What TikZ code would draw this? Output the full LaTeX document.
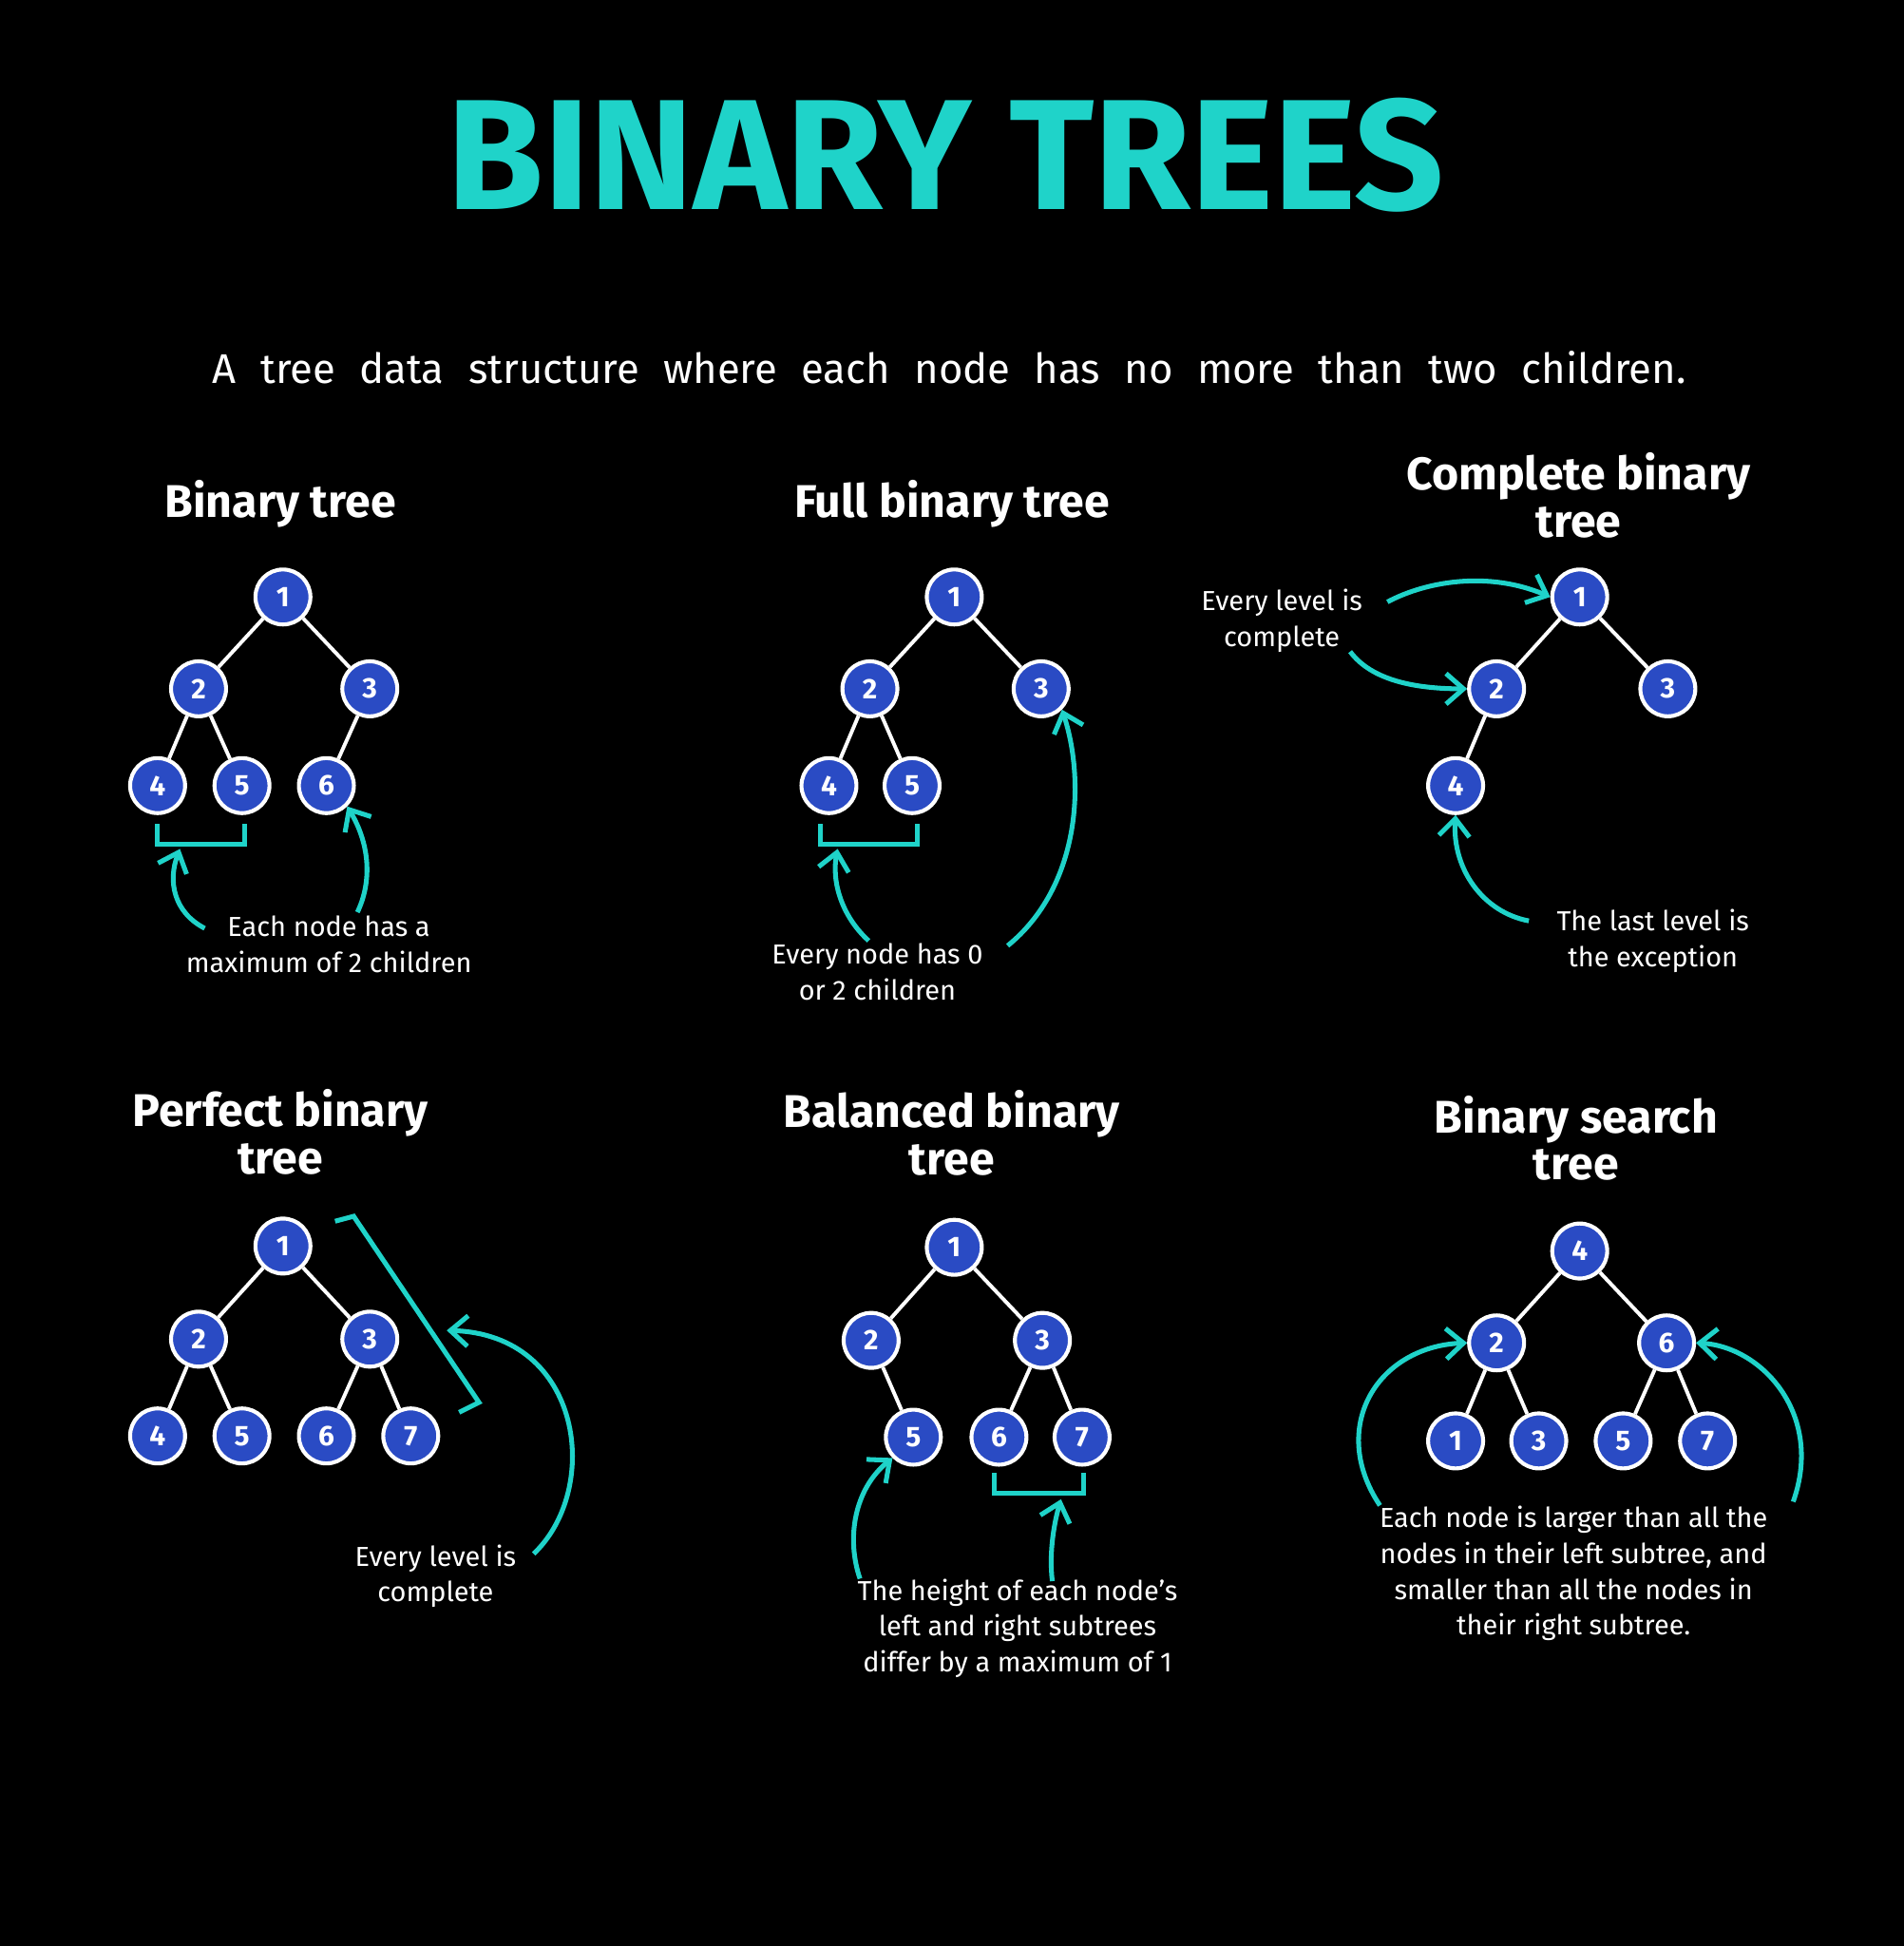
\documentclass[tikz,border=0pt]{standalone}
\usepackage{fontspec}
\setmainfont{Fira Sans}
\newfontfamily\subfont{Fira Sans}[WordSpace=2.2]
\usetikzlibrary{arrows.meta}
\definecolor{tealc}{HTML}{1FD3C9}
\definecolor{nodeblue}{HTML}{2A4BC4}
\tikzset{
  tn/.style={circle,draw=white,line width=0.9pt,fill=nodeblue,text=white,
             minimum size=12.6pt,inner sep=0pt,font=\bfseries\fontsize{6.5}{7}\selectfont},
  edge/.style={draw=white,line width=0.85pt},
  hint/.style={draw=tealc,line width=1.1pt,-{Straight Barb[length=4pt,width=7pt]}},
  brk/.style={draw=tealc,line width=1.1pt},
  note/.style={text=white,align=center,font=\fontsize{6.3}{8.2}\selectfont},
  head/.style={text=white,align=center,font=\bfseries\fontsize{10.5}{10.8}\selectfont}
}
\begin{document}
\begin{tikzpicture}[x=0.01cm,y=-0.01cm]
\fill[black] (0,0) rectangle (1534,1568);
\useasboundingbox (0,0) rectangle (1534,1568);

\node[text=tealc,font=\bfseries\fontsize{36}{36}\selectfont] (Title) at (762,125) {BINARY TREES};
\node[text=white,font=\subfont\fontsize{9.5}{10}\selectfont] (Sub) at (765,296)
  {A tree data structure where each node has no more than two children.};

% binary tree
\node[head] (HeadA) at (226,406) {Binary tree};
\node[tn] (A1) at (228,481) {1};
\node[tn] (A2) at (160,555) {2};
\node[tn] (A3) at (298,555) {3};
\node[tn] (A4) at (127,633) {4};
\node[tn] (A5) at (195,633) {5};
\node[tn] (A6) at (263,633) {6};
\draw[edge] (A1)--(A2) (A1)--(A3) (A2)--(A4) (A2)--(A5) (A3)--(A6);
\draw[brk] (127,664)--(127,680)--(197,680)--(197,664);
\node[note] (NoteA) at (265,761) {Each node has a\\maximum of 2 children};
\coordinate (BrkA) at (145,684);
\draw[hint] (165,748) .. controls (140,735) and (135,710) .. (BrkA);
\draw[hint] (288,735) .. controls (300,710) and (298,680) .. (A6.south east);

% full binary tree
\node[head] (HeadB) at (767,406) {Full binary tree};
\node[tn] (B1) at (769,481) {1};
\node[tn] (B2) at (701,555) {2};
\node[tn] (B3) at (839,555) {3};
\node[tn] (B4) at (668,633) {4};
\node[tn] (B5) at (735,633) {5};
\draw[edge] (B1)--(B2) (B1)--(B3) (B2)--(B4) (B2)--(B5);
\draw[brk] (661,664)--(661,680)--(739,680)--(739,664);
\node[note] (NoteB) at (707,783) {Every node has 0\\or 2 children};
\coordinate (BrkB) at (675,684);
\draw[hint] (700,758) .. controls (678,738) and (670,710) .. (BrkB);
\draw[hint] (812,762) .. controls (870,715) and (875,630) .. (B3.south east);

% complete binary tree
\node[head] (HeadC) at (1272,399) {Complete binary\\tree};
\node[tn] (C1) at (1273,481) {1};
\node[tn] (C2) at (1206,555) {2};
\node[tn] (C3) at (1344,555) {3};
\node[tn] (C4) at (1173,633) {4};
\draw[edge] (C1)--(C2) (C1)--(C3) (C2)--(C4);
\node[note] (NoteC) at (1033,500) {Every level is\\complete};
\node[note] (NoteD) at (1332,758) {The last level is\\the exception};
\draw[hint] (1118,485) .. controls (1150,468) and (1200,460) .. (C1.west);
\draw[hint] (1088,525) .. controls (1105,548) and (1140,555) .. (C2.west);
\draw[hint] (1232,742) .. controls (1195,735) and (1170,700) .. (C4.south);

% perfect binary tree
\node[head] (HeadE) at (226,912) {Perfect binary\\tree};
\node[tn] (E1) at (228,1004) {1};
\node[tn] (E2) at (160,1079) {2};
\node[tn] (E3) at (298,1079) {3};
\node[tn] (E4) at (127,1157) {4};
\node[tn] (E5) at (195,1157) {5};
\node[tn] (E6) at (263,1157) {6};
\node[tn] (E7) at (331,1157) {7};
\draw[edge] (E1)--(E2) (E1)--(E3) (E2)--(E4) (E2)--(E5) (E3)--(E6) (E3)--(E7);
\draw[brk] (270,984)--(285,980)--(386,1130)--(370,1138);
\node[note] (NoteE) at (351,1270) {Every level is\\complete};
\coordinate (BrkE) at (360,1072);
\draw[hint] (430,1252) .. controls (485,1200) and (470,1075) .. (BrkE);

% balanced binary tree
\node[head] (HeadF) at (767,913) {Balanced binary\\tree};
\node[tn] (F1) at (769,1005) {1};
\node[tn] (F2) at (702,1080) {2};
\node[tn] (F3) at (840,1080) {3};
\node[tn] (F5) at (736,1158) {5};
\node[tn] (F6) at (805,1158) {6};
\node[tn] (F7) at (872,1158) {7};
\draw[edge] (F1)--(F2) (F1)--(F3) (F2)--(F5) (F3)--(F6) (F3)--(F7);
\draw[brk] (801,1187)--(801,1203)--(873,1203)--(873,1187);
\node[note] (NoteF) at (820,1312) {The height of each node's\\left and right subtrees\\differ by a maximum of 1};
\coordinate (BrkF) at (855,1208);
\draw[hint] (693,1272) .. controls (682,1240) and (688,1200) .. (F5.south west);
\draw[hint] (848,1274) .. controls (845,1250) and (850,1225) .. (BrkF);

% binary search tree
\node[head] (HeadG) at (1270,917) {Binary search\\tree};
\node[tn] (G4) at (1273,1008) {4};
\node[tn] (G2) at (1206,1082) {2};
\node[tn] (G6) at (1343,1082) {6};
\node[tn] (G1) at (1173,1161) {1};
\node[tn] (G3) at (1240,1161) {3};
\node[tn] (G5) at (1308,1161) {5};
\node[tn] (G7) at (1376,1161) {7};
\draw[edge] (G4)--(G2) (G4)--(G6) (G2)--(G1) (G2)--(G3) (G6)--(G5) (G6)--(G7);
\node[note] (NoteG) at (1268,1268) {Each node is larger than all the\\nodes in their left subtree, and\\smaller than all the nodes in\\their right subtree.};
\draw[hint] (1112,1213) .. controls (1070,1150) and (1110,1085) .. (G2.west);
\draw[hint] (1445,1210) .. controls (1470,1140) and (1420,1085) .. (G6.east);
\end{tikzpicture}
\end{document}
